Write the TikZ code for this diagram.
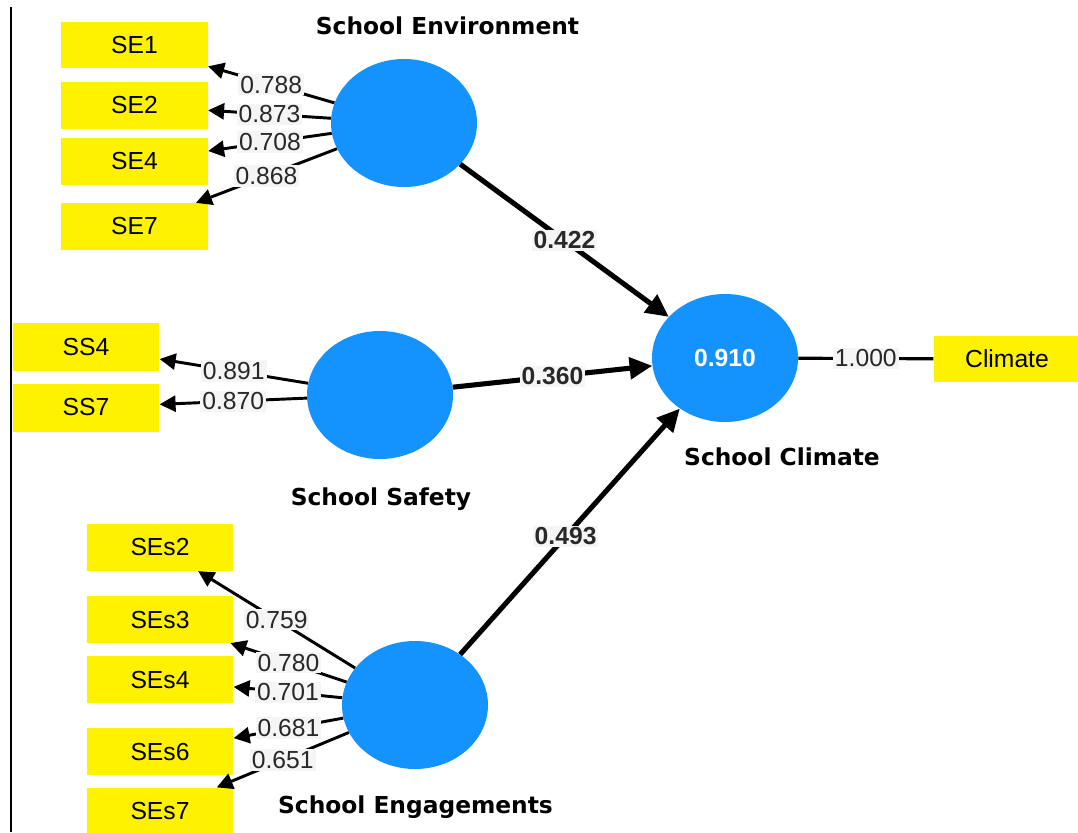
\documentclass[tikz,border=0pt]{standalone}
\usepackage{fontspec}
\setmainfont{Liberation Sans}
\newfontfamily\titlefont{DejaVu Sans}
\usetikzlibrary{shapes.geometric,arrows.meta}
\definecolor{lvblue}{RGB}{20,147,255}
\definecolor{lblbg}{RGB}{245,245,245}
\definecolor{txt}{RGB}{40,40,40}
\begin{document}
\begin{tikzpicture}[x=0.75pt,y=-0.75pt,
  lv/.style={ellipse, fill=lvblue, minimum width=109.5pt, minimum height=96pt, inner sep=0pt},
  ind/.style={rectangle, fill=yellow, minimum width=110pt, minimum height=35pt, inner sep=0pt, text=black, font=\fontsize{18.5}{21}\selectfont},
  ttl/.style={anchor=base, font=\titlefont\bfseries\fontsize{17.5}{20}\selectfont},
  lbl/.style={fill=lblbg, inner sep=1.5pt, text=txt, font=\fontsize{18.5}{21}\selectfont},
  blbl/.style={fill=lblbg, inner sep=1.5pt, text=txt, font=\bfseries\fontsize{18.5}{21}\selectfont},
  loadarrow/.style={line width=2.2pt, -{Triangle[length=12pt,width=12pt]}},
  structpath/.style={line width=3.8pt, -{Triangle[length=17pt,width=16pt]}},
]
\useasboundingbox (0,0) rectangle (1078,832);
\fill[white] (0,0) rectangle (1078,832);
\draw[line width=0.9pt] (11,7) -- (11,832);

% latent variables
\node[lv] (se) at (404,123) {};
\node[lv] (ss) at (380,395) {};
\node[lv] (sc) at (725,358) {\textcolor{white}{\bfseries\fontsize{18.5}{21}\selectfont 0.910}};
\node[lv] (seng) at (415,705) {};

% titles
\node[ttl] (tse) at (447.5,34) {School Environment};
\node[ttl] (tss) at (381,505) {School Safety};
\node[ttl] (tsc) at (782,465) {School Climate};
\node[ttl] (tseng) at (415.5,813) {School Engagements};

% indicators
\node[ind] (se1) at (134.5,45) {SE1};
\node[ind] (se2) at (134.5,105.5) {SE2};
\node[ind] (se4) at (134.5,161.5) {SE4};
\node[ind] (se7) at (134.5,226.5) {SE7};
\node[ind, minimum height=36pt] (ss4) at (86,347) {SS4};
\node[ind, minimum height=36pt] (ss7) at (86,407.5) {SS7};
\node[ind] (ses2) at (160,547.5) {SEs2};
\node[ind] (ses3) at (160,619.5) {SEs3};
\node[ind] (ses4) at (160,679.5) {SEs4};
\node[ind] (ses6) at (160,751.5) {SEs6};
\node[ind] (ses7) at (160,811) {SEs7};
\node[ind] (clim) at (1007,359) {Climate};

% outer loadings
\draw[loadarrow] (se) -- node[lbl]{0.788} (se1);
\draw[loadarrow] (se) -- node[lbl]{0.873} (se2);
\draw[loadarrow] (se) -- node[lbl]{0.708} (se4);
\draw[loadarrow] (se) -- node[lbl]{0.868} (se7);
\draw[loadarrow] (ss) -- node[lbl]{0.891} (ss4);
\draw[loadarrow] (ss) -- node[lbl]{0.870} (ss7);
\draw[loadarrow] (seng) -- node[lbl]{0.759} (ses2);
\draw[loadarrow] (seng) -- node[lbl]{0.780} (ses3);
\draw[loadarrow] (seng) -- node[lbl]{0.701} (ses4);
\draw[loadarrow] (seng) -- node[lbl]{0.681} (ses6);
\draw[loadarrow] (seng) -- node[lbl]{0.651} (ses7);

% structural paths
\draw[structpath] (se) -- node[blbl]{0.422} (sc);
\draw[structpath] (ss) -- node[blbl]{0.360} (sc);
\draw[structpath] (seng) -- node[blbl,pos=0.48]{0.493} (sc);
\draw[line width=2.4pt] (sc) -- node[lbl]{1.000} (clim);
\end{tikzpicture}
\end{document}
